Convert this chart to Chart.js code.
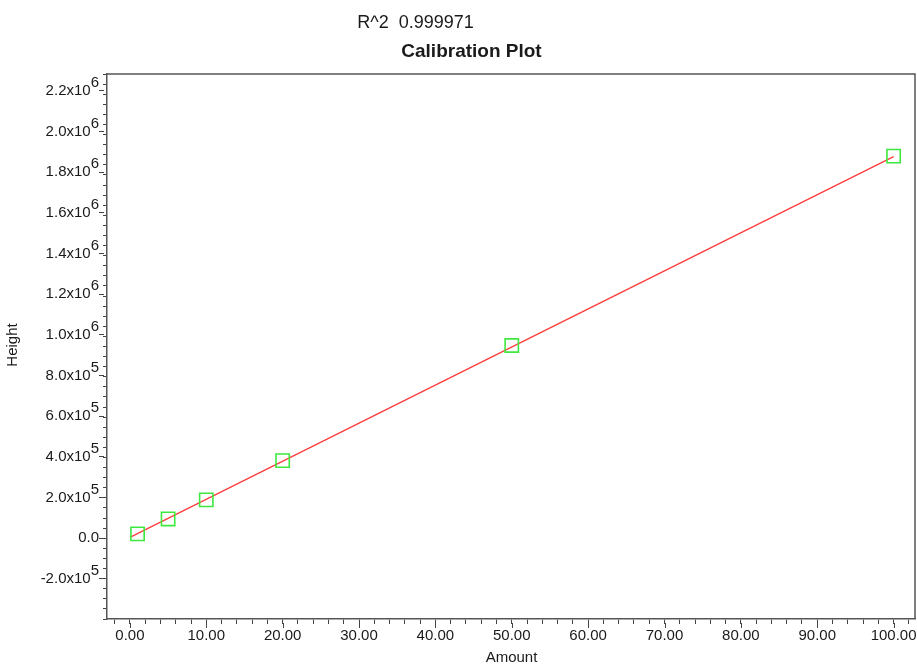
<!DOCTYPE html>
<html><head><meta charset="utf-8">
<script src="https://cdn.jsdelivr.net/npm/chart.js@4.4.1/dist/chart.umd.min.js"></script>
<style>html,body{margin:0;padding:0;background:#fff;overflow:hidden}#wrap{width:917px;height:665px}</style>
</head><body><div id="wrap"><canvas id="c" width="917" height="665"></canvas></div>
<script>
// ---- data ----
const amounts = [1, 5, 10, 20, 50, 100];
const heights = [18500, 92000, 185700, 379000, 945000, 1876000];
const fitX = [0, 100];
const fitY = [1000, 1874000];
const yTickValues = [-200000, 0, 200000, 400000, 600000, 800000, 1000000, 1200000, 1400000, 1600000, 1800000, 2000000, 2200000];
const yTickBase = ['-2.0x10', '0.0', '2.0x10', '4.0x10', '6.0x10', '8.0x10', '1.0x10', '1.2x10', '1.4x10', '1.6x10', '1.8x10', '2.0x10', '2.2x10'];
const yTickExp = ['5', '', '5', '5', '5', '5', '6', '6', '6', '6', '6', '6', '6'];
const xTickValues = [0, 10, 20, 30, 40, 50, 60, 70, 80, 90, 100];
const xTickLabels = ['0.00', '10.00', '20.00', '30.00', '40.00', '50.00', '60.00', '70.00', '80.00', '90.00', '100.00'];
const titleText = 'R^2  0.999971';
const subtitleText = 'Calibration Plot';
const xAxisTitle = 'Amount';
const yAxisTitle = 'Height';

const FONT = '"Liberation Sans", Arial, Helvetica, sans-serif';
const AXIS_COLOR = '#555';
const TEXT_COLOR = '#1a1a1a';

const decorPlugin = {
  id: 'decor',
  afterDraw(chart) {
    const ctx = chart.ctx;
    const ca = chart.chartArea;
    const xs = chart.scales.x, ys = chart.scales.y;
    ctx.save();
    // top and right frame
    ctx.strokeStyle = AXIS_COLOR;
    ctx.lineWidth = 1.5;
    ctx.beginPath();
    ctx.moveTo(ca.left, ca.top);
    ctx.lineTo(ca.right, ca.top);
    ctx.lineTo(ca.right, ca.bottom);
    ctx.stroke();
    // major tick extensions
    ctx.strokeStyle = '#444';
    ctx.lineWidth = 1;
    ctx.beginPath();
    yTickValues.forEach(v => {
      const py = Math.round(ys.getPixelForValue(v)) + 0.5;
      ctx.moveTo(ca.left - 8, py);
      ctx.lineTo(ca.left - 3, py);
    });
    xTickValues.forEach(v => {
      const px = Math.round(xs.getPixelForValue(v)) + 0.5;
      ctx.moveTo(px, ca.bottom + 4);
      ctx.lineTo(px, ca.bottom + 9);
    });
    ctx.stroke();
    // y tick labels with superscript exponent
    ctx.fillStyle = TEXT_COLOR;
    ctx.font = '15px ' + FONT;
    ctx.textBaseline = 'middle';
    ctx.textAlign = 'right';
    const rightEdge = ca.left - 8;
    yTickValues.forEach((v, i) => {
      const py = ys.getPixelForValue(v);
      const exp = yTickExp[i];
      if (exp) {
        const ew = ctx.measureText(exp).width;
        ctx.fillText(exp, rightEdge, py - 7.5);
        ctx.fillText(yTickBase[i], rightEdge - ew, py + 0.5);
      } else {
        ctx.fillText(yTickBase[i], rightEdge, py + 0.5);
      }
    });
    // titles
    ctx.textAlign = 'center';
    ctx.textBaseline = 'alphabetic';
    ctx.font = '18px ' + FONT;
    ctx.fillText(titleText, 415.5, 28);
    ctx.font = 'bold 19px ' + FONT;
    ctx.fillText(subtitleText, 471.5, 57);
    // axis titles
    ctx.font = '15px ' + FONT;
    ctx.textBaseline = 'middle';
    ctx.fillText(xAxisTitle, 511.5, 658);
    ctx.save();
    ctx.translate(13, 345);
    ctx.rotate(-Math.PI / 2);
    ctx.fillText(yAxisTitle, 0, 0);
    ctx.restore();
    ctx.restore();
  }
};

new Chart(document.getElementById('c'), {
  type: 'scatter',
  data: {
    datasets: [
      {
        label: 'Fit',
        type: 'line',
        data: fitX.map((x, i) => ({ x: x, y: fitY[i] })),
        borderColor: '#ff3b3b',
        borderWidth: 1.3,
        pointRadius: 0,
        fill: false,
        order: 2
      },
      {
        label: 'Standards',
        data: amounts.map((x, i) => ({ x: x, y: heights[i] })),
        pointStyle: 'rect',
        pointRadius: 9.4,
        pointBorderWidth: 1.6,
        pointBorderColor: '#3ee83e',
        pointBackgroundColor: 'rgba(0,0,0,0)',
        showLine: false,
        order: 1
      }
    ]
  },
  options: {
    responsive: false,
    animation: false,
    devicePixelRatio: 1,
    layout: { autoPadding: false, padding: { left: 0, top: 74, right: 2, bottom: 0 } },
    plugins: { legend: { display: false }, tooltip: { enabled: false }, title: { display: false } },
    scales: {
      x: {
        type: 'linear',
        min: -3,
        max: 102.8,
        afterFit(scale) { scale.height = 46; scale.paddingLeft = 0; scale.paddingRight = 0; },
        border: { display: true, color: AXIS_COLOR, width: 1.5 },
        grid: { display: true, drawOnChartArea: false, drawTicks: true, tickLength: 5, color: '#444', tickColor: '#444' },
        ticks: {
          stepSize: 2,
          includeBounds: false,
          autoSkip: false,
          maxRotation: 0,
          padding: 3,
          color: TEXT_COLOR,
          font: { size: 15, family: FONT },
          callback(value) {
            const i = xTickValues.indexOf(value);
            return i >= 0 ? xTickLabels[i] : '';
          }
        }
      },
      y: {
        type: 'linear',
        min: -400000,
        max: 2280000,
        afterFit(scale) { scale.width = 107; scale.paddingTop = 0; scale.paddingBottom = 0; },
        border: { display: true, color: AXIS_COLOR, width: 1.5 },
        grid: { display: true, drawOnChartArea: false, drawTicks: true, tickLength: 4, color: '#444', tickColor: '#444' },
        ticks: { stepSize: 50000, includeBounds: false, display: false }
      }
    }
  },
  plugins: [decorPlugin]
});
</script>
</body></html>
